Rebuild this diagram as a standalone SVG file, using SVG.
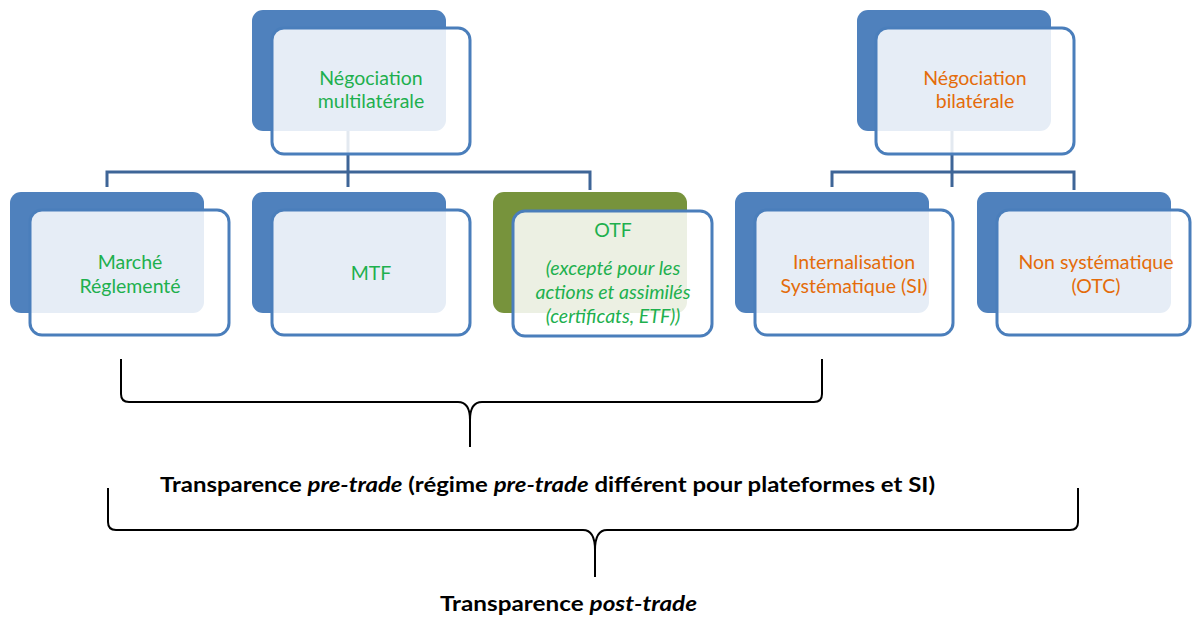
<svg xmlns="http://www.w3.org/2000/svg" width="1192" height="617" viewBox="0 0 1192 617">
<style>
.back{fill:#4F81BD;}
.backg{fill:#77933C;}
.front{fill:#ffffff;fill-opacity:0.86;stroke:#4A7EBB;stroke-width:3;}
.conn{fill:none;stroke:#3E6597;stroke-width:3;}
.brace{fill:none;stroke:#000;stroke-width:2;}
.t{font-family:Lato,"Open Sans","Liberation Sans",sans-serif;font-size:19.5px;text-anchor:middle;}
.g{fill:#1EB04E;}
.o{fill:#E46C0A;}
.b{font-family:Lato,"Open Sans","Liberation Sans",sans-serif;font-size:20px;font-weight:bold;fill:#000;}
</style>
<rect width="1192" height="617" fill="#fff"/>
<g id="connectors">
<path class="conn" d="M348,130 V187 M107,187 V172 H590 V190"/>
<path class="conn" d="M952,130 V187 M832,187 V172 H1074 V190"/>
</g>
<g id="n-multi">
<rect class="back" x="252" y="10" width="194" height="121" rx="11"/>
<rect class="front" x="272" y="28" width="198" height="126" rx="12"/>
<text class="t g" x="371" y="85">Négociation</text>
<text class="t g" x="371" y="108">multilatérale</text>
</g>
<g id="n-bi">
<rect class="back" x="857" y="10" width="194" height="121" rx="11"/>
<rect class="front" x="876" y="28" width="198" height="126" rx="12"/>
<text class="t o" x="975" y="85">Négociation</text>
<text class="t o" x="975" y="108">bilatérale</text>
</g>
<g id="n-marche">
<rect class="back" x="10" y="192" width="194" height="121" rx="11"/>
<rect class="front" x="30" y="210" width="199" height="125" rx="12"/>
<text class="t g" x="130" y="269">Marché</text>
<text class="t g" x="130" y="293">Réglementé</text>
</g>
<g id="n-mtf">
<rect class="back" x="252" y="192" width="194" height="121" rx="11"/>
<rect class="front" x="272" y="210" width="198" height="125" rx="12"/>
<text class="t g" x="371" y="280">MTF</text>
</g>
<g id="n-otf">
<rect class="backg" x="493" y="192" width="194" height="121" rx="11"/>
<rect class="front" x="513" y="211" width="199" height="125" rx="12"/>
<text class="t g" x="613" y="237">OTF</text>
<text class="t g" x="613" y="275" font-style="italic">(excepté pour les</text>
<text class="t g" x="613" y="299" font-style="italic">actions et assimilés</text>
<text class="t g" x="613" y="323" font-style="italic">(certificats, ETF))</text>
</g>
<g id="n-si">
<rect class="back" x="735" y="192" width="194" height="121" rx="11"/>
<rect class="front" x="755" y="210" width="198" height="125" rx="12"/>
<text class="t o" x="854" y="269">Internalisation</text>
<text class="t o" x="854" y="293">Systématique (SI)</text>
</g>
<g id="n-otc">
<rect class="back" x="977" y="192" width="194" height="121" rx="11"/>
<rect class="front" x="997" y="210" width="193" height="125" rx="12"/>
<text class="t o" x="1096" y="269">Non systématique</text>
<text class="t o" x="1096" y="293">(OTC)</text>
</g>
<g id="braces">
<path class="brace" d="M121,359 V394 Q121,402 129,402 H458 Q470,402 470,420 V447 M470,420 Q470,402 482,402 H814 Q822,402 822,394 V359"/>
<path class="brace" d="M108,488 V522 Q108,530 116,530 H583 Q595,530 595,550 V577 M595,550 Q595,530 607,530 H1070 Q1078,530 1078,522 V488"/>
</g>
<g id="labels">
<text class="b" x="160" y="492" textLength="775" lengthAdjust="spacingAndGlyphs">Transparence <tspan font-style="italic">pre-trade</tspan> (régime <tspan font-style="italic">pre-trade</tspan> différent pour plateformes et SI)</text>
<text class="b" x="440" y="611" textLength="257" lengthAdjust="spacingAndGlyphs">Transparence <tspan font-style="italic">post-trade</tspan></text>
</g>
</svg>
